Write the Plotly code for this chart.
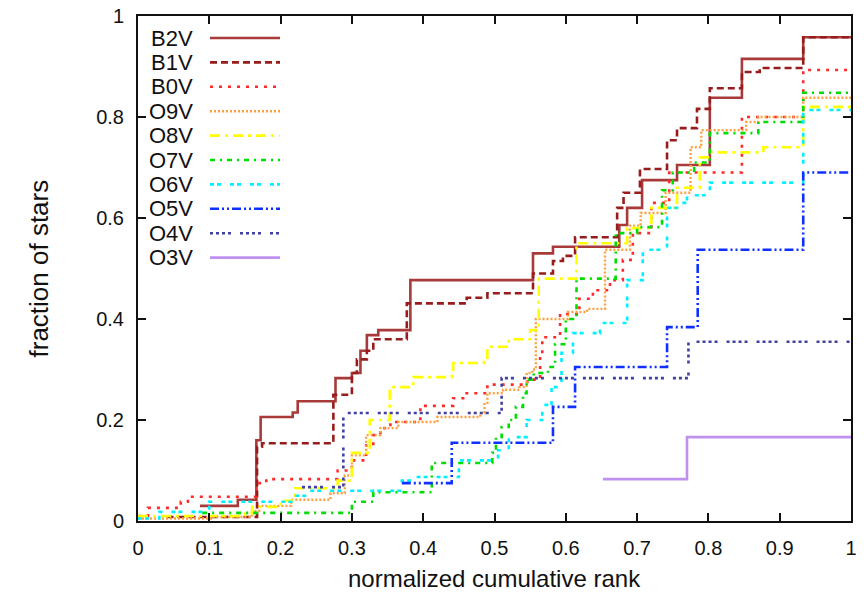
import plotly.graph_objects as go

# ---------------- data ----------------
names = ["B2V", "B1V", "B0V", "O9V", "O8V", "O7V", "O6V", "O5V", "O4V", "O3V"]

b2v_x = [0.087, 0.14, 0.166, 0.172, 0.217, 0.224, 0.277, 0.3, 0.312, 0.321, 0.337, 0.382, 0.554, 0.582, 0.675, 0.686, 0.707, 0.756, 0.802, 0.847, 0.933, 1.0]
b2v_y = [0.03, 0.042, 0.16, 0.206, 0.215, 0.237, 0.283, 0.293, 0.337, 0.368, 0.378, 0.477, 0.53, 0.543, 0.586, 0.62, 0.675, 0.705, 0.838, 0.915, 0.958, 0.958]

b1v_x = [0.04, 0.167, 0.174, 0.274, 0.3, 0.307, 0.321, 0.33, 0.377, 0.461, 0.49, 0.554, 0.582, 0.596, 0.613, 0.672, 0.681, 0.704, 0.742, 0.756, 0.784, 0.802, 0.847, 0.872, 0.933, 1.0]
b1v_y = [0.008, 0.147, 0.154, 0.25, 0.293, 0.32, 0.337, 0.36, 0.431, 0.442, 0.451, 0.49, 0.515, 0.525, 0.562, 0.62, 0.65, 0.697, 0.754, 0.778, 0.816, 0.857, 0.889, 0.897, 0.958, 0.958]

b0v_x = [0.0, 0.014, 0.06, 0.07, 0.166, 0.18, 0.28, 0.3, 0.32, 0.33, 0.34, 0.354, 0.396, 0.442, 0.456, 0.49, 0.546, 0.564, 0.567, 0.592, 0.619, 0.638, 0.662, 0.68, 0.694, 0.72, 0.745, 0.847, 0.933, 1.0]
b0v_y = [0.01, 0.026, 0.038, 0.048, 0.075, 0.083, 0.1, 0.12, 0.15, 0.17, 0.184, 0.196, 0.228, 0.243, 0.253, 0.27, 0.28, 0.33, 0.364, 0.41, 0.44, 0.457, 0.477, 0.517, 0.57, 0.63, 0.69, 0.8, 0.893, 0.893]

o9v_x = [0.0, 0.105, 0.16, 0.17, 0.215, 0.27, 0.29, 0.3, 0.32, 0.34, 0.365, 0.42, 0.48, 0.486, 0.49, 0.512, 0.535, 0.545, 0.553, 0.558, 0.603, 0.63, 0.655, 0.69, 0.705, 0.74, 0.775, 0.79, 0.853, 0.87, 0.933, 1.0]
o9v_y = [0.005, 0.008, 0.02, 0.03, 0.042, 0.055, 0.09, 0.13, 0.17, 0.184, 0.196, 0.206, 0.214, 0.234, 0.253, 0.26, 0.265, 0.293, 0.3, 0.4, 0.414, 0.42, 0.537, 0.585, 0.61, 0.65, 0.74, 0.774, 0.79, 0.8, 0.838, 0.838]

o8v_x = [0.0, 0.15, 0.16, 0.2, 0.22, 0.28, 0.3, 0.325, 0.353, 0.386, 0.44, 0.442, 0.485, 0.49, 0.52, 0.55, 0.562, 0.615, 0.686, 0.72, 0.756, 0.788, 0.802, 0.877, 0.933, 1.0]
o8v_y = [0.01, 0.015, 0.028, 0.04, 0.065, 0.08, 0.135, 0.2, 0.265, 0.285, 0.293, 0.313, 0.32, 0.345, 0.36, 0.378, 0.48, 0.55, 0.58, 0.62, 0.66, 0.72, 0.73, 0.74, 0.82, 0.82]

o7v_x = [0.09, 0.3, 0.33, 0.412, 0.497, 0.502, 0.51, 0.52, 0.53, 0.54, 0.545, 0.555, 0.575, 0.585, 0.6, 0.615, 0.67, 0.7, 0.735, 0.75, 0.78, 0.802, 0.87, 0.933, 1.0]
o7v_y = [0.016, 0.038, 0.057, 0.115, 0.135, 0.166, 0.186, 0.2, 0.226, 0.253, 0.28, 0.293, 0.305, 0.35, 0.4, 0.48, 0.57, 0.582, 0.655, 0.69, 0.71, 0.768, 0.79, 0.848, 0.848]

o6v_x = [0.0, 0.03, 0.1, 0.215, 0.24, 0.37, 0.39, 0.45, 0.505, 0.52, 0.545, 0.567, 0.58, 0.594, 0.61, 0.648, 0.686, 0.708, 0.742, 0.756, 0.77, 0.802, 0.933, 1.0]
o6v_y = [0.005, 0.018, 0.038, 0.05, 0.06, 0.08, 0.087, 0.12, 0.14, 0.166, 0.2, 0.23, 0.265, 0.333, 0.372, 0.392, 0.477, 0.537, 0.62, 0.63, 0.645, 0.67, 0.814, 0.814]

o5v_x = [0.37, 0.44, 0.582, 0.613, 0.742, 0.785, 0.933, 1.0]
o5v_y = [0.075, 0.155, 0.226, 0.305, 0.384, 0.537, 0.69, 0.69]

o4v_x = [0.23, 0.288, 0.51, 0.772, 1.0]
o4v_y = [0.067, 0.214, 0.283, 0.355, 0.355]

o3v_x = [0.652, 0.77, 1.0]
o3v_y = [0.083, 0.166, 0.166]

x_ticks = [0, 0.1, 0.2, 0.3, 0.4, 0.5, 0.6, 0.7, 0.8, 0.9, 1]
x_tick_text = ["0", "0.1", "0.2", "0.3", "0.4", "0.5", "0.6", "0.7", "0.8", "0.9", "1"]
y_ticks = [0, 0.2, 0.4, 0.6, 0.8, 1]
y_tick_text = ["0", "0.2", "0.4", "0.6", "0.8", "1"]

x_title = "normalized cumulative rank"
y_title = "fraction of stars"

# ---------------- styles ----------------
series = [
    (b2v_x, b2v_y), (b1v_x, b1v_y), (b0v_x, b0v_y), (o9v_x, o9v_y), (o8v_x, o8v_y),
    (o7v_x, o7v_y), (o6v_x, o6v_y), (o5v_x, o5v_y), (o4v_x, o4v_y), (o3v_x, o3v_y),
]
colors = ["#a83a3a", "#981c1c", "#ff2a2a", "#ffa040", "#ffff00",
          "#00dd00", "#00f0ff", "#1030ff", "#4040a0", "#c090f0"]
dashes = ["solid", "7px,4px", "3px,6px", "2px,2px", "10px,5px,3px,5px",
          "5px,5px,2px,5px", "4px,3px,4px,9px", "9px,3px,2px,3px,2px,3px",
          "3px,3px,3px,3px,3px,3px,3px,9px", "solid"]
widths = [2.6, 2.6, 2.6, 2.4, 2.6, 2.6, 2.6, 2.6, 2.6, 2.6]

FONT = "Liberation Sans, Arial, sans-serif"
W, H = 864, 597
ML, MR, MT, MB = 138, 13, 16, 76
PW, PH = W - ML - MR, H - MT - MB

def px2paper_x(px):
    return (px - ML) / PW

def py2paper_y(py):
    return (H - MB - py) / PH

fig = go.Figure()
for (xs, ys), name, c, d, w in zip(series, names, colors, dashes, widths):
    fig.add_trace(go.Scatter(x=xs, y=ys, mode="lines", name=name,
                             line=dict(color=c, dash=d, width=w, shape="hv"),
                             showlegend=False))

# legend drawn as text (left) + line sample (right), like gnuplot
shapes = []
annotations = []
for i, (name, c, d, w) in enumerate(zip(names, colors, dashes, widths)):
    py = 38 + 24.4 * i
    annotations.append(dict(x=px2paper_x(195), y=py2paper_y(py), xref="paper", yref="paper",
                            text=name, showarrow=False, xanchor="right", yanchor="middle",
                            font=dict(family=FONT, size=22, color="#111")))
    shapes.append(dict(type="line", xref="paper", yref="paper",
                       x0=px2paper_x(210), x1=px2paper_x(280),
                       y0=py2paper_y(py), y1=py2paper_y(py),
                       line=dict(color=c, dash=d, width=w)))

annotations.append(dict(x=0.5, y=py2paper_y(578), xref="paper", yref="paper", text=x_title,
                        showarrow=False, xanchor="center", yanchor="middle",
                        font=dict(family=FONT, size=24, color="#111")))
annotations.append(dict(x=px2paper_x(38), y=0.5, xref="paper", yref="paper", text=y_title,
                        showarrow=False, xanchor="center", yanchor="middle", textangle=-90,
                        font=dict(family=FONT, size=26, color="#111")))

axis_common = dict(showgrid=False, zeroline=False, showline=True, linecolor="#111",
                   linewidth=2, mirror="ticks", ticks="inside", ticklen=8, tickwidth=1.5,
                   tickcolor="#111", tickfont=dict(family=FONT, size=20, color="#111"))

fig.update_layout(
    width=W, height=H,
    margin=dict(l=ML, r=MR, t=MT, b=MB, autoexpand=False),
    paper_bgcolor="white", plot_bgcolor="white",
    xaxis=dict(range=[0, 1], tickvals=x_ticks, ticktext=x_tick_text, ticklabelstandoff=8, **axis_common),
    yaxis=dict(range=[0, 1], tickvals=y_ticks, ticktext=y_tick_text, ticklabelstandoff=8, **axis_common),
    shapes=shapes, annotations=annotations, showlegend=False,
)

fig.write_html("out.html")
